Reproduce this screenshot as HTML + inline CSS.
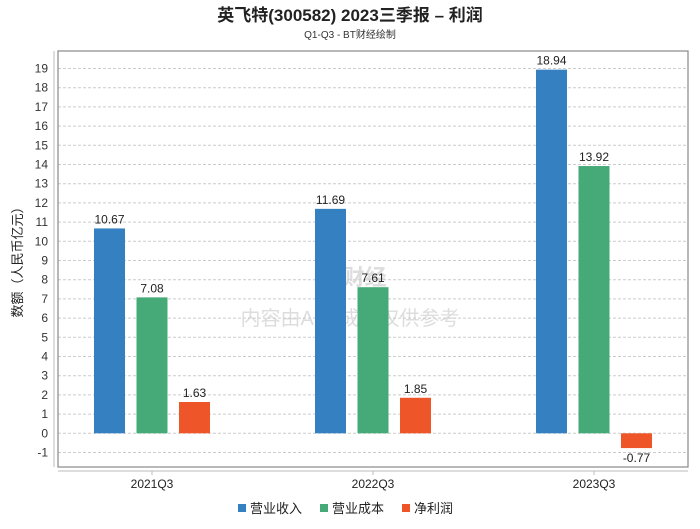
<!DOCTYPE html>
<html><head><meta charset="utf-8"><style>
body{margin:0;background:#fff;font-family:"Liberation Sans","Noto Sans CJK SC",sans-serif}
svg text{font-family:"Liberation Sans","Noto Sans CJK SC",sans-serif}
</style></head><body>
<svg id="c" width="700" height="524" xmlns="http://www.w3.org/2000/svg">
<text x="350" y="21" text-anchor="middle" font-size="17" font-weight="bold" fill="#222">英飞特(300582) 2023三季报 – 利润</text>
<text x="350" y="38" text-anchor="middle" font-size="10" fill="#333">Q1-Q3 - BT财经绘制</text>
<text x="350" y="285" text-anchor="middle" font-size="22" fill="#ddd" font-weight="bold">BT财经</text>
<text x="350" y="325" text-anchor="middle" font-size="20" fill="#ddd">内容由AI生成，仅供参考</text>
<g id="grid"></g><g id="bars"></g>
<rect x="58" y="51" width="630" height="416" fill="none" stroke="#888" stroke-width="1.2"/>
<line x1="54" y1="51" x2="54" y2="467" stroke="#bbb"/>
<line x1="58" y1="471" x2="688" y2="471" stroke="#bbb"/>
<text transform="translate(22,259) rotate(-90)" text-anchor="middle" font-size="13" fill="#222">数额（人民币亿元）</text>
<g id="legend"></g>
</svg>
<script>
const categories=["2021Q3","2022Q3","2023Q3"];
const seriesNames=["营业收入","营业成本","净利润"];
const revenue=[10.67,11.69,18.94];
const cost=[7.08,7.61,13.92];
const profit=[1.63,1.85,-0.77];
const yTicks=[-1,0,1,2,3,4,5,6,7,8,9,10,11,12,13,14,15,16,17,18,19];
const colors=["#3480c0","#46aa78","#ee5528"];
const NS="http://www.w3.org/2000/svg";
const y=v=>433.3-v*19.2;
const xc=i=>152+i*221;
function mk(t,a,p){const e=document.createElementNS(NS,t);for(const k in a)e.setAttribute(k,a[k]);p.appendChild(e);return e;}
const grid=document.getElementById('grid');
yTicks.forEach(t=>{
 const l=mk('line',{x1:58,x2:688,y1:y(t),y2:y(t),stroke:'#ccc','stroke-dasharray':'3,2'},grid);
 
 
 const tx=mk('text',{x:48,y:y(t)+4,'text-anchor':'end','font-size':12,fill:'#333'},grid);
 tx.textContent=t;
 
 
});
const bars=document.getElementById('bars');
const series=[revenue,cost,profit];
categories.forEach((c,i)=>{
 series.forEach((s,j)=>{
  const v=s[i];const x=xc(i)-58+j*42.5;
  const r=mk('rect',{x:x,y:Math.min(y(v),y(0)),width:31,height:Math.abs(y(v)-y(0)),fill:colors[j]},bars);
  
  
  const t=mk('text',{x:x+15.5,y:v>=0?y(v)-5:y(v)+14,'text-anchor':'middle','font-size':12,fill:'#222'},bars);
  t.textContent=v.toFixed(2);
  
  
 });
 const tk=mk('line',{x1:xc(i),x2:xc(i),y1:471,y2:475,stroke:'#bbb'},bars);
 
 
 const t=mk('text',{x:xc(i),y:488,'text-anchor':'middle','font-size':12,fill:'#222'},bars);
 t.textContent=c;
 
 
});
const lg=document.getElementById('legend');
const lx=[238,320,402];
seriesNames.forEach((n,j)=>{
 const r=mk('rect',{x:lx[j],y:504,width:8,height:8,fill:colors[j]},lg);
 
 
 const t=mk('text',{x:lx[j]+12,y:513,'font-size':13,fill:'#222'},lg);
 t.textContent=n;
 
 
});
</script>
</body></html>
